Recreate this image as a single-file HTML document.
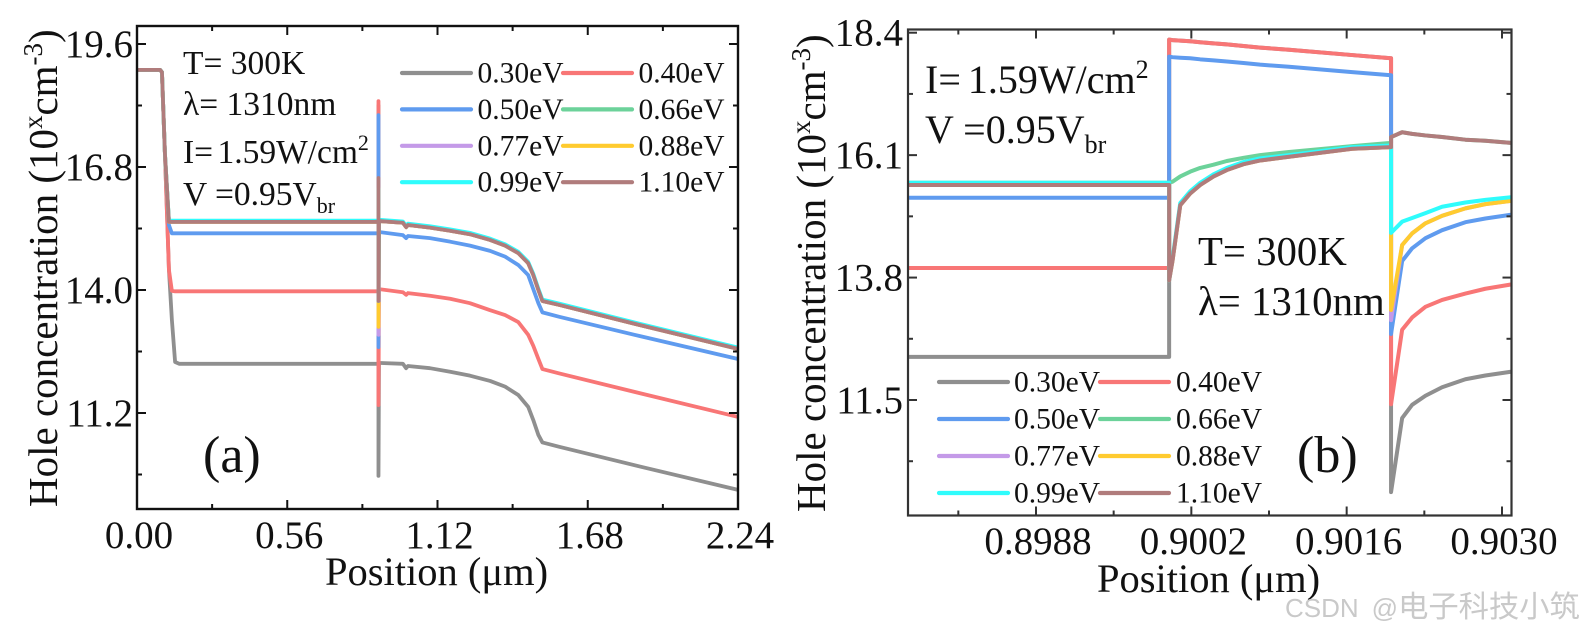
<!DOCTYPE html>
<html lang="en">
<head>
<meta charset="utf-8">
<title>Hole concentration vs position</title>
<style>
html,body{margin:0;padding:0;background:#fff;}
svg{display:block;}
text{font-family:"Liberation Serif","Noto Serif CJK SC",serif;fill:#111;}
.wm{font-family:"Liberation Sans","Noto Sans CJK SC",sans-serif;fill:#c9c9c9;}
</style>
</head>
<body>
<svg id="figure" xmlns="http://www.w3.org/2000/svg" width="1585" height="634" viewBox="0 0 1585 634">
  <defs>
    <clipPath id="clipA"><rect x="137" y="26" width="601" height="483"/></clipPath>
    <clipPath id="clipB"><rect x="908" y="29.5" width="603.5" height="486"/></clipPath>
  </defs>
  <g id="panelA"></g>
  <g id="panelB"></g>

  <text transform="translate(57,507) rotate(-90)" font-size="41">Hole concentration (10<tspan font-size="27" dy="-15">x</tspan><tspan dy="15">cm</tspan><tspan font-size="27" dy="-15">-3</tspan><tspan dy="15">)</tspan></text>
  <text x="325" y="585" font-size="40.5">Position (μm)</text>
  <text transform="translate(825,512) rotate(-90)" font-size="41">Hole concentration (10<tspan font-size="27" dy="-15">x</tspan><tspan dy="15">cm</tspan><tspan font-size="27" dy="-15">-3</tspan><tspan dy="15">)</tspan></text>
  <text x="1097" y="592" font-size="40.5">Position (μm)</text>

  <g font-size="33.5">
    <text x="183" y="74">T= 300K</text>
    <text x="183" y="115">λ= 1310nm</text>
    <text x="183" y="163">I=<tspan dx="-4"> 1.59W/cm</tspan><tspan font-size="22" dy="-13">2</tspan></text>
    <text x="183" y="205">V =0.95V<tspan font-size="22" dy="8">br</tspan></text>
  </g>
  <g font-size="40">
    <text x="925" y="93">I=<tspan dx="-3"> 1.59W/cm</tspan><tspan font-size="26" dy="-15">2</tspan></text>
    <text x="925" y="143">V =0.95V<tspan font-size="26" dy="10">br</tspan></text>
    <text x="1198" y="265" font-size="40.8">T= 300K</text>
    <text x="1198" y="315" font-size="40.8">λ= 1310nm</text>
  </g>
  <text x="203" y="472" font-size="52">(a)</text>
  <text x="1297" y="472" font-size="52">(b)</text>
  <text class="wm" x="1285" y="617"><tspan font-size="26">CSDN</tspan><tspan font-size="26" dx="13">@</tspan><tspan font-size="30.3">电子科技小筑</tspan></text>
</svg>
<script>
/* ---------- shared categories ---------- */
const energyLabels = ['0.30eV','0.40eV','0.50eV','0.66eV','0.77eV','0.88eV','0.99eV','1.10eV'];

/* ---------- panel (a) data: position in um, concentration exponent ---------- */
const positionsA = [0,0.086,0.093,0.104,0.119,0.130,0.142,0.157,0.90,0.90,0.90,0.902,0.991,1.003,1.010,1.092,1.167,1.241,1.316,1.372,1.421,1.458,1.477,1.496,1.511,1.574,1.875,2.24];
const a030 = [19.01,19.01,18.96,17.12,14.46,13.32,12.36,12.32,12.32,18.2,9.77,12.34,12.32,12.22,12.27,12.22,12.14,12.05,11.93,11.80,11.61,11.34,11.04,10.70,10.53,10.43,9.98,9.45];
const a040 = [19.01,19.01,18.96,17.12,14.46,13.98,13.97,13.97,13.97,18.30,11.38,14.02,13.95,13.89,13.93,13.87,13.80,13.70,13.54,13.43,13.27,12.98,12.73,12.43,12.20,12.10,11.65,11.11];
const a050 = [19.01,19.01,18.96,17.12,15.48,15.29,15.29,15.29,15.29,17.98,12.70,15.32,15.25,15.18,15.23,15.18,15.10,15.01,14.89,14.76,14.57,14.34,14.02,13.70,13.49,13.39,12.95,12.43];
const a066 = [19.01,19.01,18.96,17.12,15.55,15.55,15.55,15.55,15.55,16.0,14.5,15.57,15.53,15.43,15.48,15.42,15.35,15.27,15.14,15.01,14.84,14.61,14.34,14.00,13.75,13.66,13.20,12.66];
const a077 = [19.01,19.01,18.96,17.12,15.55,15.55,15.55,15.55,15.55,16.3,12.98,15.57,15.53,15.43,15.48,15.42,15.35,15.27,15.14,15.01,14.84,14.61,14.34,14.00,13.75,13.66,13.20,12.66];
const a088 = [19.01,19.01,18.96,17.12,15.55,15.55,15.55,15.55,15.55,16.3,13.16,15.57,15.53,15.43,15.48,15.42,15.35,15.27,15.14,15.01,14.84,14.61,14.34,14.00,13.75,13.66,13.20,12.66];
const a099 = [19.01,19.01,18.96,17.12,15.58,15.58,15.58,15.58,15.58,16.3,13.75,15.60,15.56,15.46,15.51,15.45,15.38,15.30,15.17,15.04,14.87,14.64,14.37,14.03,13.78,13.69,13.23,12.69];
const a110 = [19.01,19.01,18.96,17.12,15.55,15.55,15.55,15.55,15.55,16.55,13.75,15.57,15.53,15.43,15.48,15.42,15.35,15.27,15.14,15.01,14.84,14.61,14.34,14.00,13.75,13.66,13.20,12.66];
const xTicksA = [0,0.56,1.12,1.68,2.24];
const xTickLabelsA = ['0.00','0.56','1.12','1.68','2.24'];
const xMinorTicksA = [0.28,0.84,1.40,1.96];
const yTicksA = [19.6,16.8,14.0,11.2];
const yTickLabelsA = ['19.6','16.8','14.0','11.2'];
const yMinorTicksA = [18.2,15.4,12.6,9.8];

/* ---------- panel (b) data ---------- */
const positionsB = [0.89765,0.9000,0.9000,0.90003,0.90010,0.90019,0.90028,0.90040,0.90052,0.90067,0.90082,0.90108,0.90165,0.90200,0.90200,0.90210,0.90219,0.90231,0.90246,0.90267,0.90285,0.90308];
const b030 = [12.31,12.31,18.27,18.26,18.25,18.24,18.22,18.20,18.18,18.15,18.12,18.08,17.98,17.92,9.77,11.16,11.41,11.58,11.74,11.89,11.96,12.03];
const b040 = [13.98,13.98,18.27,18.26,18.25,18.24,18.22,18.20,18.18,18.15,18.12,18.08,17.98,17.92,11.42,12.82,13.05,13.25,13.38,13.50,13.59,13.67];
const b050 = [15.30,15.30,17.95,17.94,17.93,17.92,17.90,17.88,17.86,17.83,17.80,17.76,17.66,17.60,12.74,14.11,14.35,14.54,14.69,14.84,14.91,14.98];
const b066 = [15.58,15.58,15.58,15.60,15.70,15.79,15.86,15.92,15.99,16.05,16.10,16.16,16.27,16.33,16.44,16.53,16.50,16.47,16.44,16.39,16.37,16.33];
const b077 = [15.54,15.54,13.75,14.11,15.16,15.38,15.54,15.70,15.82,15.93,16.00,16.07,16.22,16.25,13.00,14.41,14.63,14.82,14.96,15.10,15.18,15.24];
const b088 = [15.54,15.54,13.75,14.11,15.16,15.38,15.54,15.70,15.82,15.93,16.00,16.07,16.22,16.25,13.19,14.41,14.63,14.82,14.96,15.10,15.18,15.24];
const b099 = [15.58,15.58,13.75,14.15,15.20,15.42,15.58,15.74,15.86,15.97,16.04,16.10,16.25,16.28,14.64,14.85,14.92,15.01,15.13,15.21,15.26,15.31];
const b110 = [15.54,15.54,13.75,14.11,15.16,15.38,15.54,15.70,15.82,15.93,16.00,16.07,16.22,16.25,16.44,16.53,16.50,16.47,16.44,16.39,16.37,16.33];
const xTicksB = [0.8988,0.9002,0.9016,0.9030];
const xTickLabelsB = ['0.8988','0.9002','0.9016','0.9030'];
const xMinorTicksB = [0.8981,0.8995,0.9009,0.9023];
const yTicksB = [18.4,16.1,13.8,11.5];
const yTickLabelsB = ['18.4','16.1','13.8','11.5'];
const yMinorTicksB = [17.25,14.95,12.65,10.35];

const seriesA = [a030,a040,a050,a066,a077,a088,a099,a110];
const seriesB = [b030,b040,b050,b066,b077,b088,b099,b110];
const lineColors = ['#8f8f8f','#f87676','#5f9bef','#6cd29a','#c49ae8','#ffcb2f','#2ffcfc','#b07c7c'];

/* ---------- axis functions ---------- */
function xScaleA(v){ return 137 + (v - 0) * (738 - 137) / 2.24; }
function yScaleA(v){ return 44 + (19.6 - v) * (413 - 44) / 8.4; }
function xScaleB(v){ return 1036 + (v - 0.8988) * (1502 - 1036) / 0.0042; }
function yScaleB(v){ return 32.7 + (18.4 - v) * (400 - 32.7) / 6.9; }

const NS = 'http://www.w3.org/2000/svg';
function make(parent, tag, attrs){
  const el = document.createElementNS(NS, tag);
  for (const k in attrs) el.setAttribute(k, attrs[k]);
  parent.appendChild(el);
  return el;
}

function drawPanel(cfg){
  const root = document.getElementById(cfg.rootId);
  const F = cfg.frame;

  /* series */
  const sg = make(root, 'g', {'clip-path':'url(#' + cfg.clip + ')', fill:'none', 'stroke-width':cfg.lineWidth, 'stroke-linejoin':'round', 'stroke-linecap':'round'});
  
  
  cfg.series.forEach(function(vals, i){
    const d = vals.map(function(v, j){
      return (j ? 'L' : 'M') + cfg.x(cfg.positions[j]).toFixed(2) + ' ' + cfg.y(v).toFixed(2);
    }).join('');
    const p = make(sg, 'path', {d:d, stroke:lineColors[i]});
    
    
  });

  /* frame */
  const fr = make(root, 'rect', {x:F.l, y:F.t, width:F.r - F.l, height:F.b - F.t, fill:'none', stroke:cfg.frameColor, 'stroke-width':cfg.frameWidth});
  
  

  /* ticks */
  const tg = make(root, 'g', {stroke:cfg.frameColor, 'stroke-width':2});
  
  
  function xTick(v, len){
    const px = cfg.x(v);
    const a = make(tg, 'line', {x1:px, x2:px, y1:F.b, y2:F.b - len});
    
    
    const b = make(tg, 'line', {x1:px, x2:px, y1:F.t, y2:F.t + len});
    
    
  }
  function yTick(v, len){
    const py = cfg.y(v);
    const a = make(tg, 'line', {x1:F.l, x2:F.l + len, y1:py, y2:py});
    
    
    const b = make(tg, 'line', {x1:F.r, x2:F.r - len, y1:py, y2:py});
    
    
  }
  cfg.xTicks.forEach(function(v){ xTick(v, 9); });
  cfg.xMinor.forEach(function(v){ xTick(v, 5); });
  cfg.yTicks.forEach(function(v){ yTick(v, 9); });
  cfg.yMinor.forEach(function(v){ yTick(v, 5); });

  /* tick labels */
  cfg.xTicks.forEach(function(v, i){
    const t = make(root, 'text', {x:cfg.x(v) + cfg.xLabelShift, y:cfg.xLabelY, 'font-size':39, 'text-anchor':'middle'});
    t.textContent = cfg.xLabels[i];
    
    
  });
  cfg.yTicks.forEach(function(v, i){
    const t = make(root, 'text', {x:cfg.yLabelX, y:cfg.y(v) + 13, 'font-size':39, 'text-anchor':'end'});
    t.textContent = cfg.yLabels[i];
    
    
  });

  /* legend */
  const L = cfg.legend;
  const lg = make(root, 'g', {});
  
  
  energyLabels.forEach(function(label, i){
    const col = i % 2, row = Math.floor(i / 2);
    const yy = L.rowY + row * L.rowGap;
    const s = make(lg, 'line', {x1:L.lineX[col], x2:L.lineX[col] + 69, y1:yy, y2:yy, stroke:lineColors[i], 'stroke-width':4.2, 'stroke-linecap':'round'});
    
    
    const t = make(lg, 'text', {x:L.textX[col], y:yy + 9.5, 'font-size':29.5});
    t.textContent = label;
    
    
  });
}

drawPanel({
  rootId:'panelA', prefix:'panel-a', clip:'clipA',
  frame:{l:137, t:26, r:738, b:509}, frameColor:'#111', frameWidth:2.4, lineWidth:3.8,
  x:xScaleA, y:yScaleA, positions:positionsA, series:seriesA,
  xTicks:xTicksA, xLabels:xTickLabelsA, xMinor:xMinorTicksA,
  yTicks:yTicksA, yLabels:yTickLabelsA, yMinor:yMinorTicksA,
  xLabelY:548, xLabelShift:2, yLabelX:133,
  legend:{rowY:73, rowGap:36.4, lineX:[402,563], textX:[477.5,638.5]}
});
drawPanel({
  rootId:'panelB', prefix:'panel-b', clip:'clipB',
  frame:{l:908, t:29.5, r:1511.5, b:515.5}, frameColor:'#333', frameWidth:2.2, lineWidth:4,
  x:xScaleB, y:yScaleB, positions:positionsB, series:seriesB,
  xTicks:xTicksB, xLabels:xTickLabelsB, xMinor:xMinorTicksB,
  yTicks:yTicksB, yLabels:yTickLabelsB, yMinor:yMinorTicksB,
  xLabelY:554, xLabelShift:2, yLabelX:903,
  legend:{rowY:382, rowGap:37, lineX:[939,1100], textX:[1014,1176]}
});
</script>
</body>
</html>
